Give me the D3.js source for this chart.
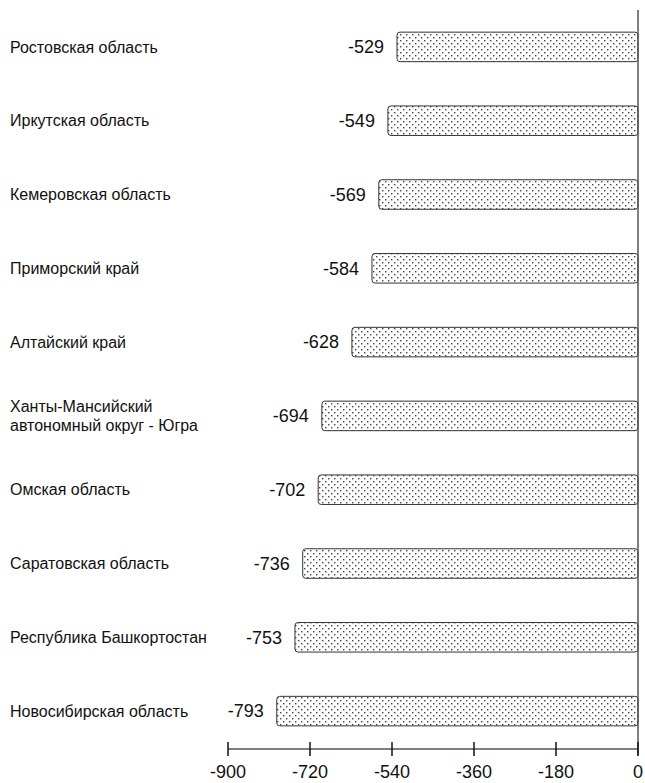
<!DOCTYPE html>
<html>
<head>
<meta charset="utf-8">
<script src="https://cdn.jsdelivr.net/npm/d3@7"></script>
<style>
  body { margin: 0; background: #fff; }
  text { font-family: "Liberation Sans", Arial, sans-serif; fill: #111; }
</style>
</head>
<body>
<div id="content"></div>
<script>
var regions = ['Ростовская область', 'Иркутская область', 'Кемеровская область', 'Приморский край',
    'Алтайский край', 'Ханты-Мансийский\nавтономный округ - Югра', 'Омская область',
    'Саратовская область', 'Республика Башкортостан', 'Новосибирская область'];
var values = [-529, -549, -569, -584, -628, -694, -702, -736, -753, -793];
var ticks = [-900, -720, -540, -360, -180, 0];

var W = 645, H = 783;
var svg = d3.select('#content').append('svg')
    .attr('width', W)
    .attr('height', H);

// dotted fill
var pat = svg.append('defs').append('pattern')
    .attr('id', 'dots')
    .attr('patternUnits', 'userSpaceOnUse')
    .attr('width', 6).attr('height', 6);
pat.append('rect').attr('width', 6).attr('height', 6).attr('fill', '#fff');
pat.append('rect').attr('x', 1).attr('y', 1).attr('width', 1.4).attr('height', 1.4).attr('fill', '#444');
pat.append('rect').attr('x', 4).attr('y', 4).attr('width', 1.4).attr('height', 1.4).attr('fill', '#444');

var x = d3.scaleLinear().domain([-900, 0]).range([228, 638]);
var y = d3.scaleBand().domain(regions).range([10, 748]).paddingInner(0.6).paddingOuter(0.3);

svg.selectAll('rect.bar')
    .data(values)
    .enter()
    .append('rect')
    .attr('class', 'bar')
    .attr('x', function(d) { return x(d); })
    .attr('y', function(d, i) { return y(regions[i]); })
    .attr('width', function(d) { return x(0) - x(d); })
    .attr('height', y.bandwidth())
    .attr('rx', 3)
    .attr('fill', 'url(#dots)')
    .attr('stroke', '#333')
    .attr('stroke-width', 1);

// value labels
svg.selectAll('text.val')
    .data(values)
    .enter()
    .append('text')
    .attr('class', 'val')
    .attr('x', function(d) { return x(d) - 13; })
    .attr('y', function(d, i) { return y(regions[i]) + y.bandwidth() / 2; })
    .attr('dy', '0.35em')
    .attr('text-anchor', 'end')
    .style('font-size', '18px')
    .text(function(d) { return d; });

// category labels
svg.selectAll('text.cat')
    .data(regions)
    .enter()
    .append('text')
    .attr('class', 'cat')
    .attr('x', 10)
    .attr('y', function(d) { return y(d) + y.bandwidth() / 2; })
    .style('font-size', '16px')
    .each(function(d) {
        var lines = d.split('\n');
        var t = d3.select(this);
        lines.forEach(function(l, k) {
            t.append('tspan')
                .attr('x', 10)
                .attr('dy', k === 0 ? ((0.35 - (lines.length - 1) * 0.57) + 'em') : '1.14em')
                .text(l);
        });
    });

// zero line
svg.append('line')
    .attr('x1', x(0)).attr('x2', x(0))
    .attr('y1', 10).attr('y2', 755)
    .attr('stroke', '#555').attr('stroke-width', 1.5);

// x axis
var axisY = 749;
var axis = svg.append('g').attr('transform', 'translate(0,' + axisY + ')');
axis.append('line')
    .attr('x1', x(-900)).attr('x2', x(0))
    .attr('stroke', '#555').attr('stroke-width', 1.3);
axis.selectAll('line.tick')
    .data(ticks)
    .enter()
    .append('line')
    .attr('class', 'tick')
    .attr('x1', function(d) { return x(d); })
    .attr('x2', function(d) { return x(d); })
    .attr('y1', -7).attr('y2', 7)
    .attr('stroke', '#111').attr('stroke-width', 1.5);
axis.selectAll('text.tl')
    .data(ticks)
    .enter()
    .append('text')
    .attr('class', 'tl')
    .attr('x', function(d) { return x(d); })
    .attr('y', 29)
    .attr('text-anchor', 'middle')
    .style('font-size', '18px')
    .text(function(d) { return d; });
</script>
</body>
</html>
